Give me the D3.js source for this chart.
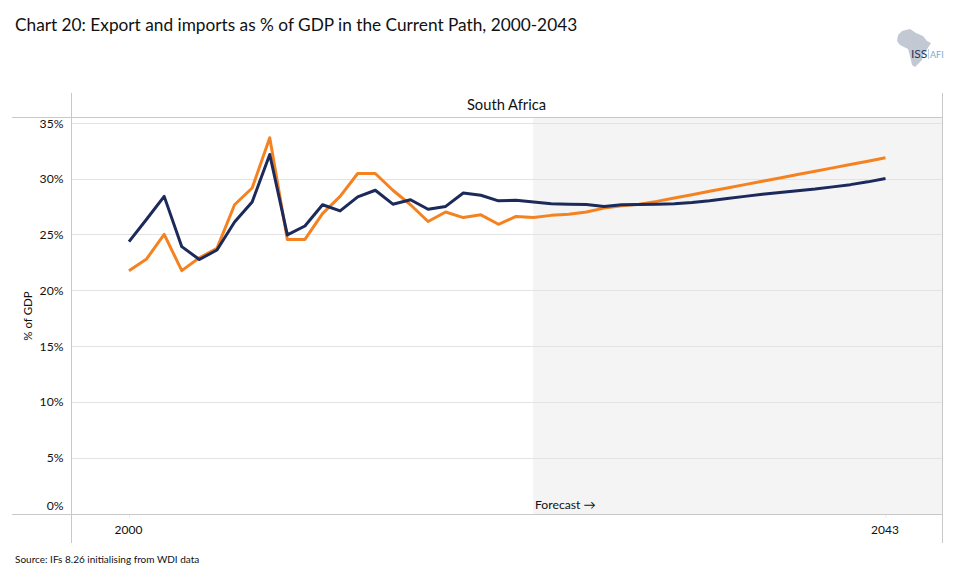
<!DOCTYPE html>
<html><head><meta charset="utf-8">
<script src="https://cdn.jsdelivr.net/npm/d3@7"></script>
<style>
html,body{margin:0;padding:0;background:#fff}
svg{display:block}
text{font-family:Lato,"Open Sans",sans-serif;fill:#111}
</style></head><body>
<svg id="c" width="955" height="584"></svg>
<script>
const years = d3.range(2000, 2044);
const yTicks = [0,5,10,15,20,25,30,35];
const xTickYears = [2000,2043];
const forecastStart = 2023;
const exportsPct = [24.4,26.4,28.45,23.95,22.8,23.65,26.15,27.95,32.2,25.0,25.8,27.7,27.15,28.4,29.0,27.75,28.15,27.3,27.55,28.75,28.55,28.05,28.1,27.95,27.8,27.75,27.72,27.55,27.7,27.72,27.75,27.8,27.9,28.05,28.25,28.45,28.65,28.8,28.95,29.1,29.3,29.5,29.75,30.05];
const importsPct = [21.8,22.85,25.05,21.8,22.95,23.8,27.7,29.2,33.7,24.6,24.6,26.9,28.45,30.5,30.5,29.0,27.7,26.2,27.05,26.55,26.8,25.95,26.65,26.55,26.75,26.85,27.05,27.4,27.6,27.75,28.0,28.3,28.6,28.9,29.2,29.5,29.8,30.1,30.4,30.7,31.0,31.3,31.6,31.9];
const titleText = "Chart 20: Export and imports as % of GDP in the Current Path, 2000-2043";
const panelTitle = "South Africa";
const yLabel = "% of GDP";
const sourceText = "Source: IFs 8.26 initialising from WDI data";
const forecastText = "Forecast \u2192";

const svg = d3.select("#c");
const x = d3.scaleLinear().domain([2000,2043]).range([129,885.5]);
const y = d3.scaleLinear().domain([0,35]).range([514.2,123.2]);
const frameC = "#c8c8c8", gridC = "#e3e3e3";
const L=71.5,R=942.5,T=117.5,B=514.5;

svg.append("rect").attr("x",x(forecastStart)-0.5).attr("y",T).attr("width",R-x(forecastStart)+0.5).attr("height",B-T).attr("fill","#f4f4f4");

const gy = svg.append("g").attr("transform",`translate(${L},0)`)
  .call(d3.axisLeft(y).tickValues(yTicks).tickFormat(d=>d+"%").tickSize(0).tickPadding(8));
gy.select(".domain").remove();
gy.selectAll("text").attr("font-size",12.2)
  .attr("y",d=>d===0?-8.5:(d===35?0.5:-0.5))
  .attr("dy","0.32em");
svg.append("g").selectAll("line").data(yTicks.filter(d=>d>0)).join("line")
  .attr("x1",L).attr("x2",R).attr("y1",d=>Math.floor(y(d))+0.5).attr("y2",d=>Math.floor(y(d))+0.5)
  .attr("stroke",gridC);

const gx = svg.append("g").attr("transform",`translate(0,${B})`)
  .call(d3.axisBottom(x).tickValues(xTickYears).tickFormat(d3.format("d")).tickSize(4).tickPadding(7));
gx.select(".domain").remove();
gx.selectAll("line").attr("stroke","#ececec");
gx.selectAll("text").attr("font-size",12).attr("dy","0.71em").attr("dx",-1);

[[12,942.5,T,T],[12,942.5,B,B],[L,L,93,543],[R,R,93,543]].forEach(s=>{
  svg.append("line").attr("x1",s[0]).attr("x2",s[1]).attr("y1",s[2]).attr("y2",s[3]).attr("stroke",frameC).attr("stroke-width",1);
});

const line = d3.line().x((d,i)=>x(years[i])).y(d=>y(d));
svg.append("path").datum(importsPct).attr("d",line).attr("fill","none").attr("stroke","#f58220").attr("stroke-width",3).attr("stroke-linejoin","round");
svg.append("path").datum(exportsPct).attr("d",line).attr("fill","none").attr("stroke","#1b2a5b").attr("stroke-width",3).attr("stroke-linejoin","round");

svg.append("text").attr("x",15).attr("y",31).attr("font-size",17.25).text(titleText);
svg.append("text").attr("x",506.5).attr("y",110).attr("text-anchor","middle").attr("font-size",14.7).text(panelTitle);
svg.append("text").attr("transform","translate(32,316) rotate(-90)").attr("text-anchor","middle").attr("font-size",11.5).text(yLabel);
svg.append("text").attr("x",535).attr("y",509).attr("font-size",12.2).text(forecastText);
svg.append("text").attr("x",15).attr("y",563).attr("font-size",10).text(sourceText);

// logo
const logo = svg.append("g");
logo.append("path").attr("fill","#c3c9d2")
  .attr("d","M898,35 L902,31 L910,29 L916,33 L923,36 L927,41 L931,43 L926,51 L923,55 L922,60 L915,67 L912,65 L910,56 L908,49 L900,45 L897,41 Z");
logo.append("text").attr("x",911).attr("y",58).attr("font-size",12).style("fill","#1f3864").text("ISS");
logo.append("line").attr("x1",928.5).attr("x2",928.5).attr("y1",49).attr("y2",59).attr("stroke","#b9d0e4");
logo.append("text").attr("x",930).attr("y",58).attr("font-size",9).style("fill","#7fa8cf").text("AFI");
</script>
</body></html>
